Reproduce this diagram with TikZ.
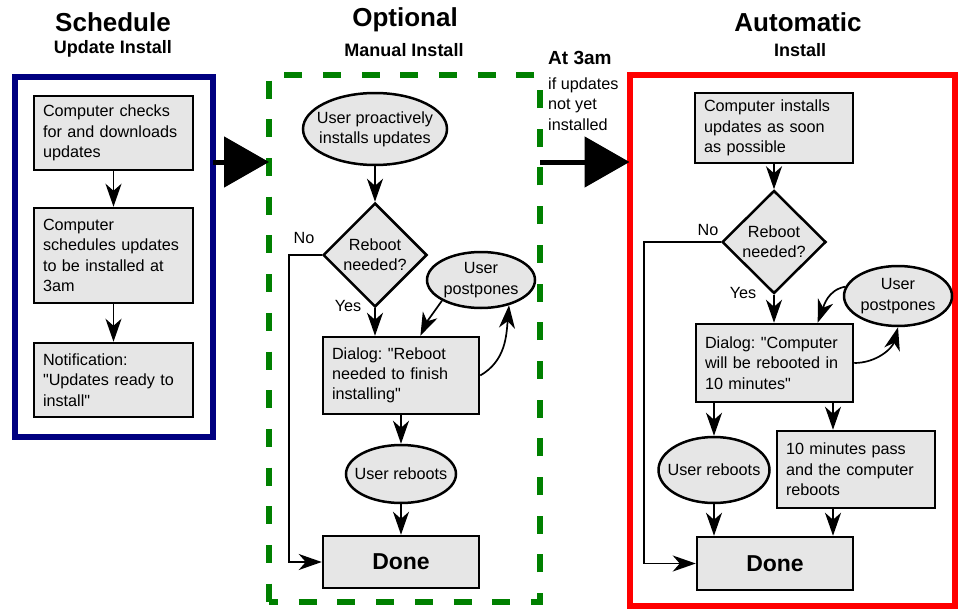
\documentclass[tikz,border=0pt]{standalone}
\usepackage{fontspec}
\setmainfont{Liberation Sans}[Ligatures=TeXOff]
\usetikzlibrary{shapes.geometric,arrows.meta}
\definecolor{boxgray}{RGB}{230,230,230}
\definecolor{framenavy}{RGB}{0,0,128}
\definecolor{framegreen}{RGB}{0,128,0}
\newcommand\bodyfont{\frenchspacing\fontsize{16.2}{20.3}\selectfont}
\newcommand\donefont{\bfseries\fontsize{23}{26}\selectfont}
\tikzset{
  x=1pt,y=1pt,
  box/.style={draw,line width=2.5pt,fill=boxgray,inner xsep=9pt,inner ysep=0pt,align=left,font=\bodyfont},
  oval/.style={ellipse,draw,line width=2.5pt,fill=boxgray,inner xsep=-20pt,inner ysep=-12pt,align=center,font=\bodyfont},
  decision/.style={diamond,draw,line width=2.5pt,fill=boxgray,inner sep=-15pt,align=center,font=\bodyfont},
  frame/.style={draw,rectangle,outer sep=0pt,inner sep=0pt},
  lbl/.style={inner sep=0pt,font=\bodyfont},
  heading/.style={font=\bfseries\fontsize{26}{30}\selectfont},
  subheading/.style={font=\bfseries\fontsize{18}{22}\selectfont},
  flow/.style={line width=1.7pt,-{Stealth[length=23pt,width=16pt,inset=7pt]}},
  bigflow/.style={line width=5pt,-{Triangle[length=45pt,width=50pt]}},
}
\begin{document}
\begin{tikzpicture}
\useasboundingbox (0,0) rectangle (958,-610);
% titles
\node[heading] (schedT) at (113,-22) {Schedule};
\node[subheading] (schedS) at (113,-49) {Update Install};
\node[heading] (manT) at (405,-20) {Optional};
\node[subheading] (manS) at (404,-50) {Manual Install};
\node[heading] (autoT) at (798,-22) {Automatic};
\node[subheading] (autoS) at (800,-50) {Install};
\node[anchor=west,inner sep=0pt,font=\bfseries\fontsize{19}{22}\selectfont] (at3) at (548,-58) {At 3am};
\node[lbl,anchor=west,align=left] (cond) at (548,-104) {if updates\\not yet\\installed};
% frames
\node[frame,draw=framenavy,line width=6pt,minimum width=198pt,minimum height=360pt] (sched) at (114,-257) {};
\node[frame,draw=framegreen,line width=6pt,dash pattern=on 18pt off 20.7pt,dash phase=9pt,minimum width=271pt,minimum height=527pt] (manual) at (404.5,-338.5) {};
\node[frame,draw=red,line width=6pt,minimum width=325pt,minimum height=531pt] (auto) at (792,-340.5) {};
\coordinate (bigrow) at (0,-162);
\coordinate (nobend1) at (289,0);
\coordinate (nobend2) at (644,0);
\coordinate (lane) at (833,0);
% schedule
\node[box,text width=141pt,minimum height=74pt] (check) at (113.5,-133) {Computer checks\\for and downloads\\updates};
\node[box,text width=141pt,minimum height=95pt] (plan) at (113.5,-255.5) {Computer\\schedules updates\\to be installed at\\3am};
\node[box,text width=141pt,minimum height=74pt] (notify) at (113.5,-380) {Notification:\\"Updates ready to\\install"};
% manual install
\node[oval,minimum width=144pt,minimum height=72pt] (proact) at (375,-129) {User proactively\\installs updates};
\node[decision,minimum width=104pt,minimum height=104pt] (reb1) at (375,-255) {Reboot\\needed?};
\node[lbl] (no1) at (304,-238) {No};
\node[lbl] (yes1) at (348,-306) {Yes};
\node[oval,minimum width=108pt,minimum height=56pt] (pp1) at (481,-280) {User\\postpones};
\node[box,text width=138pt,minimum height=77pt] (dlg1) at (401,-375.5) {Dialog: "Reboot\\needed to finish\\installing"};
\node[oval,minimum width=110pt,minimum height=58pt] (ur1) at (401,-474) {User reboots};
\node[box,minimum width=156pt,minimum height=52pt,font=\donefont] (done1) at (401,-562) {Done};
% automatic install
\node[box,text width=140pt,minimum height=70pt] (asap) at (774,-128) {Computer installs\\updates as soon\\as possible};
\node[decision,minimum width=104pt,minimum height=103pt] (reb2) at (774,-242) {Reboot\\needed?};
\node[lbl] (no2) at (708,-230) {No};
\node[lbl] (yes2) at (743,-293) {Yes};
\node[oval,minimum width=108pt,minimum height=60pt] (pp2) at (898,-296) {User\\postpones};
\node[box,text width=139pt,minimum height=78pt] (dlg2) at (774.5,-363) {Dialog: "Computer\\will be rebooted in\\10 minutes"};
\node[oval,minimum width=111pt,minimum height=66pt] (ur2) at (714,-470) {User reboots};
\node[box,text width=140pt,minimum height=77pt] (tenmin) at (856,-469.5) {10 minutes pass\\and the computer\\reboots};
\node[box,minimum width=156pt,minimum height=53pt,font=\donefont] (done2) at (775,-563.5) {Done};
\path[flow]
  (check) edge (plan)
  (plan) edge (notify)
  (proact) edge (reb1)
  (reb1.south) edge (reb1.south |- dlg1.north)
  (pp1.south west) edge[out=235,in=65] (dlg1.64)
  (dlg1.east) edge[out=30,in=-95] (pp1.318)
  (dlg1) edge (ur1)
  (ur1) edge (done1)
  (asap) edge (reb2)
  (reb2.south) edge (reb2.south |- dlg2.north)
  (pp2.170) edge[out=190,in=70] (dlg2.43)
  (dlg2.east) edge[out=0,in=-105] (pp2.south)
  (dlg2.south -| ur2) edge (ur2)
  (dlg2.south -| lane) edge (tenmin.north -| lane)
  (ur2) edge (done2.north -| ur2)
  (tenmin.south -| lane) edge (done2.north -| lane)
;
\draw[flow] (reb1.west) -- (reb1.west -| nobend1) |- (done1.west);
\draw[flow] (reb2.west) -- (reb2.west -| nobend2) |- (done2.west);
\draw[bigflow] (sched.east |- bigrow) -- (manual.west |- bigrow);
\draw[bigflow] (manual.east |- bigrow) -- (auto.west |- bigrow);
\end{tikzpicture}
\end{document}
